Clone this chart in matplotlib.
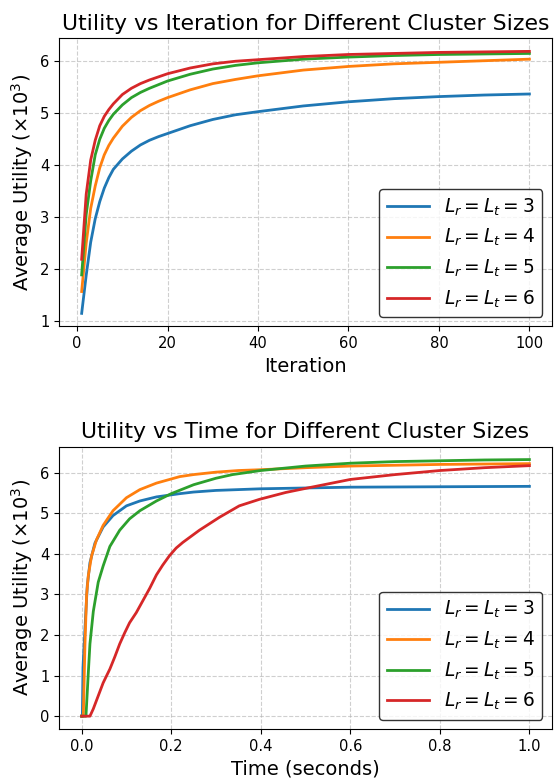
import matplotlib
matplotlib.use("Agg")
import matplotlib.pyplot as plt

# ---------------- Data ----------------
labels = [r"$L_r = L_t = 3$", r"$L_r = L_t = 4$", r"$L_r = L_t = 5$", r"$L_r = L_t = 6$"]
colors = ["#1f77b4", "#ff7f0e", "#2ca02c", "#d62728"]

iters = [1, 2, 3, 4, 5, 6, 7, 8, 10, 12, 14, 16, 18, 20, 25, 30, 35, 40, 50, 60, 70, 80, 90, 100]
iter_L3 = [1.15, 1.88, 2.52, 2.97, 3.30, 3.56, 3.76, 3.92, 4.12, 4.27, 4.39, 4.48, 4.55, 4.61,
           4.76, 4.88, 4.97, 5.03, 5.14, 5.22, 5.28, 5.32, 5.35, 5.37]
iter_L4 = [1.57, 2.50, 3.17, 3.60, 3.95, 4.20, 4.38, 4.52, 4.75, 4.92, 5.05, 5.15, 5.23, 5.30,
           5.45, 5.57, 5.65, 5.72, 5.83, 5.90, 5.95, 5.98, 6.01, 6.04]
iter_L5 = [1.89, 3.05, 3.70, 4.20, 4.50, 4.71, 4.86, 4.98, 5.16, 5.30, 5.40, 5.48, 5.55, 5.62,
           5.75, 5.85, 5.92, 5.97, 6.04, 6.08, 6.11, 6.13, 6.14, 6.15]
iter_L6 = [2.19, 3.44, 4.10, 4.48, 4.76, 4.94, 5.07, 5.18, 5.36, 5.48, 5.57, 5.64, 5.70, 5.76,
           5.87, 5.95, 6.00, 6.03, 6.09, 6.13, 6.15, 6.17, 6.18, 6.19]

time_L3 = [0.0, 0.0015, 0.003, 0.0052, 0.0067, 0.009, 0.0126, 0.0185, 0.0296, 0.048,
           0.07, 0.1, 0.13, 0.167, 0.219, 0.25, 0.3, 0.4, 0.5, 0.6, 0.8, 1.0]
util_L3 = [0.0, 0.0, 1.2, 1.7, 2.0, 2.5, 3.22, 3.78, 4.26, 4.66,
           4.94, 5.18, 5.3, 5.4, 5.48, 5.52, 5.56, 5.6, 5.62, 5.64, 5.65, 5.66]

time_L4 = [0.0, 0.0037, 0.0074, 0.011, 0.0148, 0.022, 0.033, 0.048, 0.07, 0.1, 0.13, 0.167,
           0.219, 0.25, 0.3, 0.35, 0.4, 0.5, 0.6, 0.7, 0.8, 0.9, 1.0]
util_L4 = [0.0, 0.0, 1.78, 2.98, 3.46, 3.94, 4.34, 4.7, 5.06, 5.38, 5.58, 5.74,
           5.9, 5.95, 6.01, 6.05, 6.07, 6.12, 6.16, 6.18, 6.2, 6.21, 6.22]

time_L5 = [0.0, 0.0096, 0.0148, 0.0185, 0.026, 0.037, 0.048, 0.063, 0.085, 0.107, 0.13, 0.167,
           0.2, 0.25, 0.3, 0.337, 0.4, 0.5, 0.6, 0.7, 0.8, 0.9, 1.0]
util_L5 = [0.0, 0.0, 1.06, 1.78, 2.58, 3.3, 3.7, 4.18, 4.58, 4.86, 5.06, 5.3,
           5.48, 5.7, 5.86, 5.95, 6.05, 6.16, 6.23, 6.27, 6.29, 6.31, 6.32]

time_L6 = [0.0, 0.0185, 0.026, 0.037, 0.048, 0.055, 0.063, 0.074, 0.085, 0.096, 0.107, 0.122,
           0.137, 0.152, 0.167, 0.181, 0.196, 0.211, 0.226, 0.263, 0.308, 0.352, 0.397, 0.456,
           0.509, 0.6, 0.7, 0.8, 0.9, 1.0]
util_L6 = [0.0, 0.0, 0.18, 0.5, 0.82, 0.98, 1.16, 1.46, 1.78, 2.05, 2.3, 2.55,
           2.85, 3.15, 3.48, 3.72, 3.95, 4.14, 4.28, 4.58, 4.9, 5.18, 5.34, 5.51,
           5.63, 5.83, 5.95, 6.05, 6.12, 6.17]

iter_series = [iter_L3, iter_L4, iter_L5, iter_L6]
time_series = [(time_L3, util_L3), (time_L4, util_L4), (time_L5, util_L5), (time_L6, util_L6)]

# ---------------- Plot ----------------
fig = plt.figure(figsize=(5.54, 7.81), dpi=100)
ax1 = fig.add_axes([0.107, 0.582, 0.889, 0.369])
ax2 = fig.add_axes([0.107, 0.0666, 0.889, 0.3614])

TICK_FS = 10.6
LABEL_FS = 14
TITLE_FS = 15.8
LEG_FS = 13.4

for vals, lab, c in zip(iter_series, labels, colors):
    ax1.plot(iters, vals, color=c, lw=2, label=lab)
ax1.set_title("Utility vs Iteration for Different Cluster Sizes", fontsize=TITLE_FS)
ax1.set_xlabel("Iteration", fontsize=LABEL_FS)
ax1.set_ylabel(r"Average Utility ($\times 10^3$)", fontsize=LABEL_FS)

for (t, u), lab, c in zip(time_series, labels, colors):
    ax2.plot(t, u, color=c, lw=2, label=lab)
ax2.set_title("Utility vs Time for Different Cluster Sizes", fontsize=TITLE_FS)
ax2.set_xlabel("Time (seconds)", fontsize=LABEL_FS)
ax2.set_ylabel(r"Average Utility ($\times 10^3$)", fontsize=LABEL_FS)

for ax in (ax1, ax2):
    ax.grid(True, linestyle="--", alpha=0.6)
    ax.tick_params(labelsize=TICK_FS)
    ax.legend(loc="lower right", fontsize=LEG_FS, edgecolor="black", framealpha=0.8,
              handlelength=2.3)

fig.savefig("out.png", dpi=100)
